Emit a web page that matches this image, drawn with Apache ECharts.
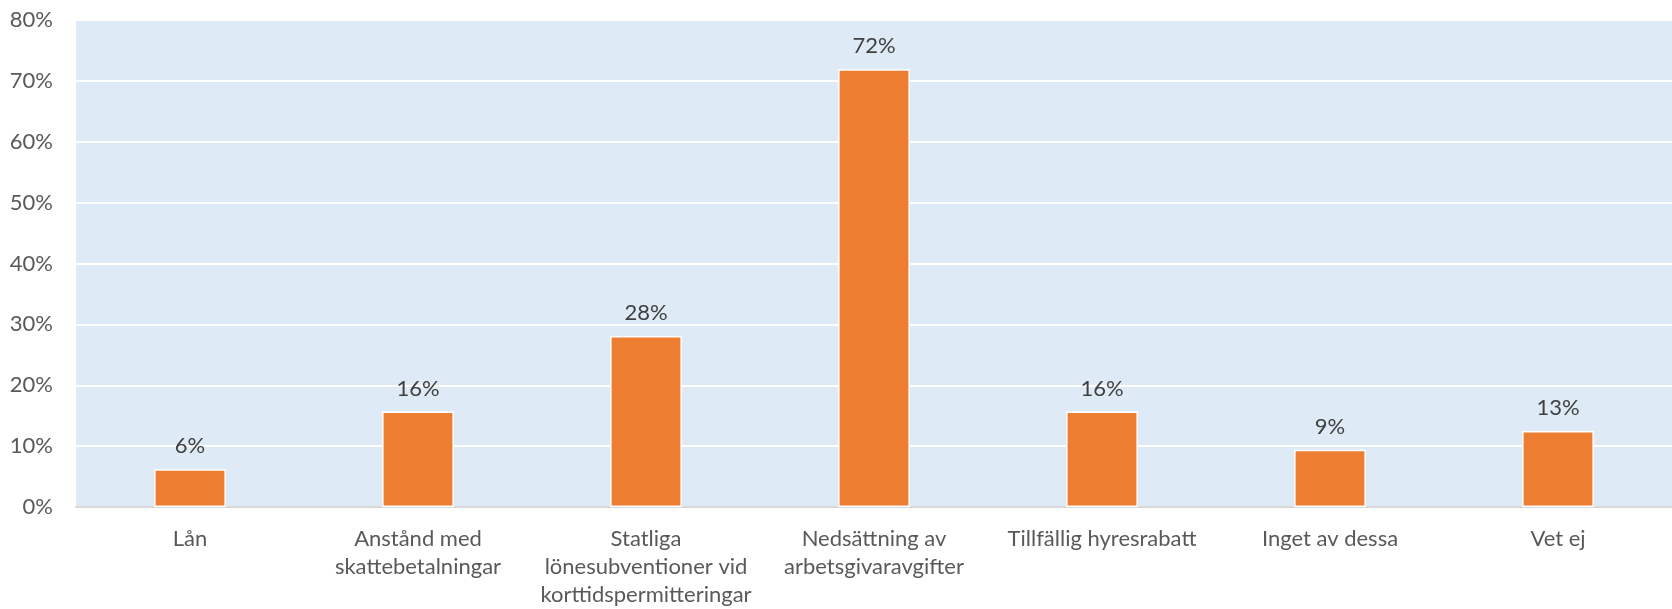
<!DOCTYPE html>
<html><head><meta charset="utf-8">
<script src="https://cdn.jsdelivr.net/npm/echarts@6/dist/echarts.min.js"></script>
<style>html,body{margin:0;padding:0;background:#fff}#c{width:1672px;height:609px}</style>
</head><body><div id="c"></div>
<script>
const categories = ["Lån", "Anstånd med\nskattebetalningar", "Statliga\nlönesubventioner vid\nkorttidspermitteringar", "Nedsättning av\narbetsgivaravgifter", "Tillfällig hyresrabatt", "Inget av dessa", "Vet ej"];
const values = [6.2, 15.7, 28.1, 71.9, 15.7, 9.4, 12.5];
const yTicks = [0, 10, 20, 30, 40, 50, 60, 70, 80];
const font = "Lato, 'Open Sans', sans-serif";
const chart = echarts.init(document.getElementById('c'));
chart.setOption({
  animation: false,
  grid: {left: 76, right: 0, top: 20, bottom: 101, show: true, backgroundColor: '#DEEAF6', borderWidth: 0},
  xAxis: {
    type: 'category', data: categories,
    axisLine: {lineStyle: {color: '#D9D9D9', width: 2}},
    axisTick: {show: false},
    axisLabel: {color: '#595959', fontFamily: font, fontSize: 22, lineHeight: 28, margin: 18, interval: 0}
  },
  yAxis: {
    type: 'value', min: yTicks[0], max: yTicks[yTicks.length - 1], interval: 10,
    axisLine: {show: false}, axisTick: {show: false},
    splitLine: {lineStyle: {color: '#FFFFFF', width: 2}},
    axisLabel: {color: '#595959', fontFamily: font, fontSize: 22, margin: 23, formatter: v => v + '%'}
  },
  series: [{
    type: 'bar', data: values, barWidth: '31.5%',
    itemStyle: {color: '#ED7D31', borderColor: '#FFFFFF', borderWidth: 1.5},
    label: {show: true, position: 'top', distance: 12, color: '#404040', fontFamily: font, fontSize: 22,
      formatter: p => Math.round(p.value) + '%'}
  }]
});
</script></body></html>
